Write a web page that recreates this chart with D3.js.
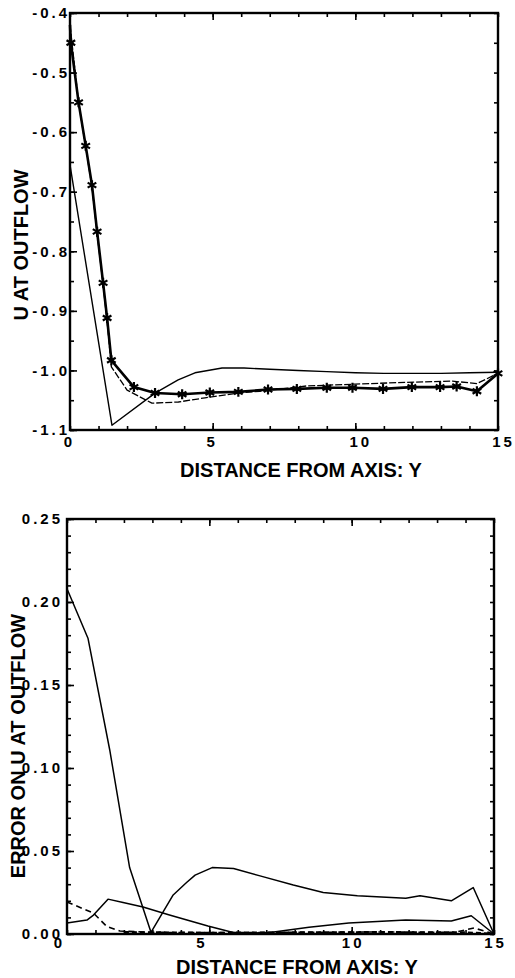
<!DOCTYPE html>
<html>
<head>
<meta charset="utf-8">
<script src="https://cdn.jsdelivr.net/npm/d3@7"></script>
<style>
  body { margin: 0; background: #fff; }
  svg { display: block; font-family: "Liberation Sans", Arial, Helvetica, sans-serif; font-weight: bold; }
</style>
</head>
<body>
<div id="d3-container"></div>
<script>
/**
 * CONSTANTS AND GLOBALS
 * */
const width = 515,
  height = 978;

// tick values + labels
const distTicks = [0, 5, 10, 15];
const distLabels = ["0", "5", "10", "15"];
const uTicks = [-0.4, -0.5, -0.6, -0.7, -0.8, -0.9, -1.0, -1.1];
const uLabels = ["-0.4", "-0.5", "-0.6", "-0.7", "-0.8", "-0.9", "-1.0", "-1.1"];
const errTicks = [0.25, 0.2, 0.15, 0.1, 0.05, 0];
const errLabels = ["0.25", "0.20", "0.15", "0.10", "0.05", "0.00"];

// top panel: U at outflow
const starY = [0, 0.03, 0.3, 0.55, 0.77, 0.95, 1.16, 1.3, 1.45, 2.24, 2.98, 3.93, 4.9, 5.9, 6.94, 7.95, 9.0, 9.9, 10.97, 11.98, 12.97, 13.55, 14.26, 15];
const starU = [-0.42, -0.45, -0.55, -0.623, -0.689, -0.767, -0.853, -0.912, -0.983, -1.028, -1.038, -1.040, -1.037, -1.036, -1.032, -1.031, -1.029, -1.029, -1.031, -1.028, -1.028, -1.027, -1.035, -1.005];

const dashY = [0, 0.3, 0.55, 0.77, 0.95, 1.16, 1.3, 1.45, 2.0, 2.87, 3.8, 4.73, 5.9, 6.65, 8.3, 10.0, 11.8, 13.4, 14.26, 15];
const dashU = [-0.42, -0.55, -0.625, -0.692, -0.77, -0.856, -0.918, -0.994, -1.033, -1.055, -1.053, -1.046, -1.038, -1.035, -1.026, -1.023, -1.02, -1.018, -1.022, -1.005];

const thinY = [0, 1.47, 2.98, 3.79, 4.38, 5.33, 6.1, 7, 8, 9, 10, 11, 12, 13, 14, 15];
const thinU = [-0.655, -1.092, -1.038, -1.016, -1.004, -0.996, -0.996, -0.998, -1.0, -1.002, -1.004, -1.005, -1.005, -1.005, -1.004, -1.003];

// bottom panel: error on U at outflow
const errAY = [0, 0.74, 1.5, 2.2, 2.95, 3.73, 4.2, 4.5, 5.1, 5.85, 6.78, 7.95, 9.0, 10.2, 11.9, 12.4, 13.5, 14.27, 15];
const errA = [0.208, 0.178, 0.111, 0.04, 0.001, 0.0235, 0.031, 0.0355, 0.040, 0.0395, 0.035, 0.0295, 0.025, 0.023, 0.0215, 0.023, 0.020, 0.028, 0.0];

const errBY = [0, 0.7, 0.93, 1.44, 1.97, 2.67, 3.6, 4.95, 5.8, 6.5, 7.2, 8.5, 9.9, 11.9, 13.5, 14.2, 15];
const errB = [0.0066, 0.0084, 0.0114, 0.021, 0.019, 0.0163, 0.0114, 0.0048, 0.001, 0.0005, 0.001, 0.004, 0.0066, 0.0084, 0.0078, 0.011, 0];

const errCY = [0, 0.93, 1.4, 1.86, 3, 5, 8, 11, 13.6, 14.3, 15];
const errC = [0.0193, 0.0126, 0.0045, 0.0018, 0.001, 0.0008, 0.001, 0.0012, 0.001, 0.0036, 0];

const errDY = [2, 5, 8, 11, 14, 15];
const errD = [0.001, 0.0006, 0.0008, 0.001, 0.0008, 0];

const zip = (xs, ys) => xs.map((x, i) => [x, ys[i]]);

let svg = d3.select("#d3-container")
  .append("svg")
  .attr("width", width)
  .attr("height", height);

/**
 * one framed panel
 * */
function drawPanel(p) {
  const x = d3.scaleLinear().domain([0, 15]).range([p.left, p.right]);
  const y = d3.scaleLinear().domain(p.yDomain).range([p.bottom, p.top]);
  const g = svg.append("g");

  // inward ticks on all four sides
  const tick = (axisFn, scale, values, len, tx, ty) => {
    const a = g.append("g")
      .attr("transform", `translate(${tx},${ty})`)
      .call(axisFn(scale).tickValues(values).tickSize(-len).tickFormat(""));
    a.select(".domain").remove();
    a.selectAll("line").attr("stroke", "#000").attr("stroke-width", 1.6);
  };
  const unit = d3.range(0, 16);
  tick(d3.axisBottom, x, unit, 4, 0, p.bottom);
  tick(d3.axisBottom, x, [5, 10], 7, 0, p.bottom);
  tick(d3.axisTop, x, unit, 4, 0, p.top);
  tick(d3.axisTop, x, [5, 10], 7, 0, p.top);
  tick(d3.axisLeft, y, p.minor, 4, p.left, 0);
  tick(d3.axisLeft, y, p.major, 7, p.left, 0);
  tick(d3.axisRight, y, p.minor, 4, p.right, 0);

  // frame
  g.append("rect")
    .attr("x", p.left).attr("y", p.top)
    .attr("width", p.right - p.left).attr("height", p.bottom - p.top)
    .attr("fill", "none").attr("stroke", "#000").attr("stroke-width", 2.4);

  // tick labels
  const yl = g.append("g")
    .attr("transform", `translate(${p.left},0)`)
    .call(d3.axisLeft(y).tickValues(p.major).tickSize(0).tickPadding(p.yPad)
      .tickFormat((d, i) => p.majorLabels[i]));
  yl.select(".domain").remove();
  yl.selectAll("text")
    .attr("font-family", null).attr("font-size", 15).attr("font-weight", "bold")
    .attr("letter-spacing", "3px")
    .attr("fill", "#000");

  const xl = g.append("g")
    .attr("transform", `translate(0,${p.bottom})`)
    .call(d3.axisBottom(x).tickValues(distTicks).tickSize(0).tickPadding(p.xPad)
      .tickFormat((d, i) => distLabels[i]));
  xl.select(".domain").remove();
  xl.selectAll("text")
    .attr("font-family", null).attr("font-size", 15).attr("font-weight", "bold")
    .attr("letter-spacing", "3px")
    .attr("fill", "#000")
    .attr("dx", (d, i) => p.xShift(distLabels[i]));

  // axis titles
  g.append("text")
    .attr("x", p.xTitle[0]).attr("y", p.xTitle[1])
    .attr("text-anchor", "middle").attr("font-size", 20)
    .text("DISTANCE FROM AXIS: Y");
  g.append("text")
    .attr("transform", `translate(${p.yTitle[0]},${p.yTitle[1]}) rotate(-90)`)
    .attr("text-anchor", "middle").attr("font-size", 20)
    .text(p.yName);

  // lines
  const line = d3.line().x(d => x(d[0])).y(d => y(d[1]));
  p.series.forEach(s => {
    g.append("path")
      .datum(s.pts)
      .attr("d", line)
      .attr("fill", "none")
      .attr("stroke", "#000")
      .attr("stroke-width", s.w)
      .attr("stroke-dasharray", s.dash || null)
      .attr("stroke-linejoin", "round");
    if (s.marks) {
      const sym = d3.symbol().type(d3.symbolAsterisk || d3.symbolCross).size(70);
      g.selectAll(null)
        .data(s.pts.slice(1))
        .join("path")
        .attr("d", sym)
        .attr("transform", d => `translate(${x(d[0])},${y(d[1])})`)
        .attr("fill", "none")
        .attr("stroke", "#000")
        .attr("stroke-width", 2.2);
    }
  });
}

drawPanel({
  left: 70, right: 498, top: 13, bottom: 430,
  yDomain: [-1.1, -0.4],
  major: uTicks, majorLabels: uLabels,
  minor: d3.range(-1.1, -0.399, 0.05),
  yPad: 0, xPad: 6,
  xShift: s => (s.length > 1 ? 5 : -1),
  xTitle: [301, 477], yTitle: [28, 245],
  yName: "U AT OUTFLOW",
  series: [
    { pts: zip(thinY, thinU), w: 1.4 },
    { pts: zip(dashY, dashU), w: 1.3, dash: "7,2" },
    { pts: zip(starY, starU), w: 2.6, marks: true }
  ]
});

drawPanel({
  left: 67, right: 494, top: 519, bottom: 934,
  yDomain: [0, 0.25],
  major: errTicks, majorLabels: errLabels,
  minor: d3.range(0, 0.2501, 0.01),
  yPad: 4, xPad: 3,
  xShift: s => (s.length > 1 ? 1 : -8),
  xTitle: [297, 974], yTitle: [25, 746],
  yName: "ERROR ON U AT OUTFLOW",
  series: [
    { pts: zip(errAY, errA), w: 1.5 },
    { pts: zip(errBY, errB), w: 1.5 },
    { pts: zip(errCY, errC), w: 1.6, dash: "6,4" },
    { pts: zip(errDY, errD), w: 2.6, dash: "5,3" }
  ]
});
</script>
</body>
</html>
